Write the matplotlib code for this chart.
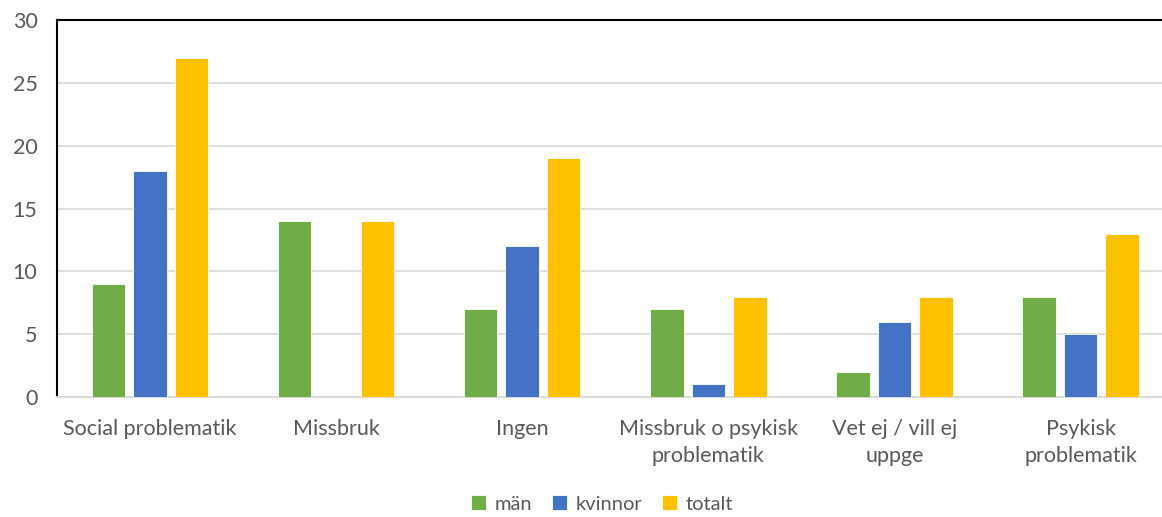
import matplotlib.pyplot as plt
import numpy as np

categories = ['Social problematik', 'Missbruk', 'Ingen', 'Missbruk o psykisk\nproblematik',
              'Vet ej / vill ej\nuppge', 'Psykisk\nproblematik']
man = [9, 14, 7, 7, 2, 8]
kvinnor = [18, 0, 12, 1, 6, 5]
totalt = [27, 14, 19, 8, 8, 13]

plt.rcParams['font.family'] = ['Lato', 'DejaVu Sans']
text_color = '#595959'

fig = plt.figure(figsize=(11.62, 5.17), dpi=100)
# plot area runs slightly past the right edge of the image
ax = fig.add_axes([0.049, 0.232, 0.961, 0.729])

x = np.arange(len(categories))
w = 0.18
step = 0.223
series = [(man, '#70AD47', 'män'), (kvinnor, '#4472C4', 'kvinnor'), (totalt, '#FFC000', 'totalt')]
for i, (vals, col, lab) in enumerate(series):
    ax.bar(x + (i - 1) * step, vals, width=w, color=col, label=lab,
           edgecolor='white', linewidth=0.6, zorder=3)

ax.set_xlim(-0.5, 5.5)
ax.set_ylim(0, 30)
ax.set_yticks(range(0, 31, 5))
ax.yaxis.grid(True, color='#D9D9D9', linewidth=1.2, zorder=0)
ax.set_xticks(x)
ax.set_xticklabels(categories, linespacing=1.4)
ax.tick_params(axis='both', length=0, labelsize=15.5, colors=text_color)
ax.tick_params(axis='x', pad=16)
ax.tick_params(axis='y', pad=14)

for side in ['left', 'top']:
    ax.spines[side].set_color('black')
    ax.spines[side].set_linewidth(1.5)
ax.spines['right'].set_visible(False)
ax.spines['bottom'].set_color('#D9D9D9')
ax.spines['bottom'].set_linewidth(1.5)

leg = fig.legend(loc='lower center', ncol=3, frameon=False, fontsize=14.5,
                 bbox_to_anchor=(0.518, -0.027), handlelength=0.75, handleheight=0.75,
                 handletextpad=0.4, columnspacing=1.0)
for t in leg.get_texts():
    t.set_color(text_color)

fig.savefig('out.png', dpi=100)
